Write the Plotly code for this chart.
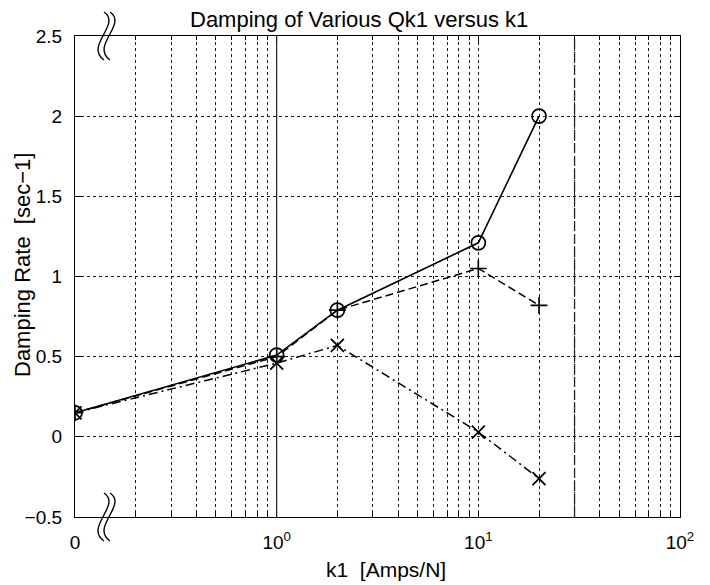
import plotly.graph_objects as go
import math

# ---- data ----
k1_values = [0, 1, 2, 10, 20]            # k1 [Amps/N]; 0 is drawn at the axis break (0.1)
damping_circle = [0.15, 0.51, 0.79, 1.21, 2.00]
damping_plus = [0.15, 0.50, 0.79, 1.05, 0.82]
damping_x = [0.15, 0.46, 0.57, 0.03, -0.26]

x_major_vals = [0.1, 1, 10, 100]
x_major_text = ["0", "10<sup>0</sup>", "10<sup>1</sup>", "10<sup>2</sup>"]
y_tick_vals = [-0.5, 0, 0.5, 1, 1.5, 2, 2.5]
y_tick_text = ["\u22120.5", "0", "0.5", "1", "1.5", "2", "2.5"]

BREAK_POS = 0.1
xpos = [BREAK_POS if v == 0 else v for v in k1_values]

# minor log ticks / grid positions (2..9 in each decade)
x_minor_vals = [round(dec * m, 6) for dec in [0.1, 1, 10] for m in range(2, 10)]

W, H = 710, 585
L, R, T, B = 75, 30, 36, 68
pw, ph = W - L - R, H - T - B

FONT = "Liberation Sans, Arial, Helvetica, sans-serif"
GRID = "#1a1a1a"

fig = go.Figure()

fig.add_trace(go.Scatter(
    x=xpos, y=damping_x, mode="lines+markers",
    line=dict(color="black", width=1.5, dash="9px,4px,2px,4px"),
    marker=dict(symbol="x-thin-open", size=13, line=dict(color="black", width=1.8)),
    showlegend=False))
fig.add_trace(go.Scatter(
    x=xpos, y=damping_plus, mode="lines+markers",
    line=dict(color="black", width=1.5, dash="8px,4px"),
    marker=dict(symbol="cross-thin-open", size=12, line=dict(color="black", width=1.6)),
    showlegend=False))
fig.add_trace(go.Scatter(
    x=xpos, y=damping_circle, mode="lines+markers",
    line=dict(color="black", width=1.6),
    marker=dict(symbol="circle-open", size=14, color="black", line=dict(color="black", width=1.7)),
    showlegend=False))


def px2paper(px, py):
    return (px - L) / pw, (H - B - py) / ph


def s_curve(x0, yc):
    pts = [(x0 + 2, yc - 24), (x0 + 20, yc - 12), (x0 - 18, yc + 10), (x0 + 2, yc + 24)]
    pp = [px2paper(a, b) for a, b in pts]
    return "M {:.5f},{:.5f} C {:.5f},{:.5f} {:.5f},{:.5f} {:.5f},{:.5f}".format(
        pp[0][0], pp[0][1], pp[1][0], pp[1][1], pp[2][0], pp[2][1], pp[3][0], pp[3][1])


shapes = []
for yc in [T, H - B]:
    for x0 in [102, 108]:
        shapes.append(dict(type="path", xref="paper", yref="paper", path=s_curve(x0, yc),
                           line=dict(color="black", width=1.4)))


def logpaper(v):
    return (math.log10(v) + 1) / 3


# emphasised vertical lines seen in the original (at 10^0 and ~30)
shapes.append(dict(type="line", xref="paper", yref="paper", x0=logpaper(1), x1=logpaper(1),
                   y0=0, y1=1, line=dict(color="#222", width=1.2)))
shapes.append(dict(type="line", xref="paper", yref="paper", x0=logpaper(30), x1=logpaper(30),
                   y0=0, y1=1, line=dict(color="#222", width=1.3, dash="10px,3px")))

fig.update_layout(
    width=W, height=H,
    margin=dict(l=L, r=R, t=T, b=B),
    paper_bgcolor="white", plot_bgcolor="white",
    font=dict(family=FONT, color="black", size=19),
    shapes=shapes,
    annotations=[
        dict(text="Damping of Various Qk1 versus k1", x=(359 - L) / pw, y=(H - B - 19) / ph,
             xref="paper", yref="paper",
             showarrow=False, xanchor="center", yanchor="middle", font=dict(size=22)),
        dict(text="k1  [Amps/N]", x=(386 - L) / pw, y=(H - B - 569) / ph,
             xref="paper", yref="paper",
             showarrow=False, xanchor="center", yanchor="middle", font=dict(size=21)),
        dict(text="Damping Rate  [sec\u22121]", x=0, y=(H - B - 265) / ph,
             xref="paper", yref="paper",
             xshift=22 - L, showarrow=False, textangle=-90, xanchor="center", yanchor="middle",
             font=dict(size=22)),
    ],
)

axis_common = dict(
    ticks="inside", ticklen=6, tickcolor="black",
    showline=True, linecolor="black", linewidth=1.3, mirror="allticks",
    showgrid=True, gridcolor=GRID, gridwidth=1, griddash="3px,3px",
    zeroline=False, ticklabelstandoff=8,
    tickfont=dict(size=19),
)

fig.update_xaxes(
    type="log", range=[-1, 2],
    tickmode="array", tickvals=x_major_vals, ticktext=x_major_text,
    minor=dict(tickmode="array", tickvals=x_minor_vals, ticks="inside", ticklen=4,
               tickcolor="black", showgrid=True, gridcolor=GRID, gridwidth=1,
               griddash="3px,3px"),
    **axis_common,
)
fig.update_yaxes(
    range=[-0.5, 2.5],
    tickmode="array", tickvals=y_tick_vals, ticktext=y_tick_text,
    **axis_common,
)

fig.write_html("out.html")
